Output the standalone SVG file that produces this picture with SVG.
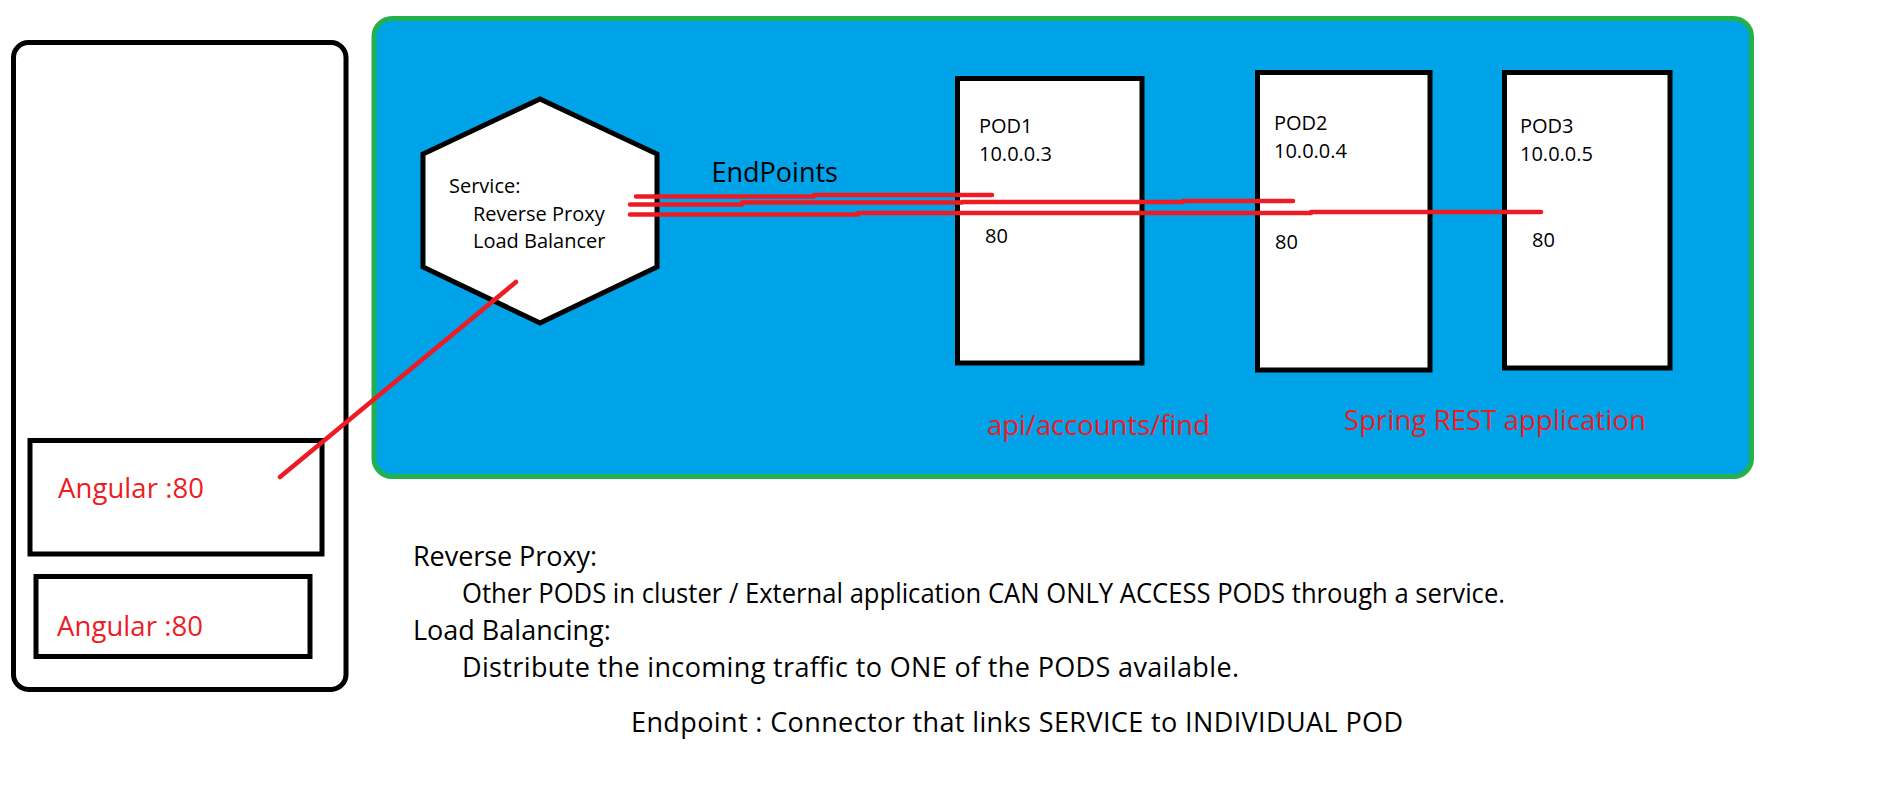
<svg xmlns="http://www.w3.org/2000/svg" width="1892" height="797" viewBox="0 0 1892 797">
<style>
text{font-family:"Open Sans","Noto Sans","Liberation Sans",sans-serif;}
.big{font-size:27px;fill:#000;}
.red{font-size:27.5px;fill:#ED1C24;}
.sm{font-size:20px;fill:#000;}
.box{fill:#fff;stroke:#000;stroke-width:5;}
.wire{fill:none;stroke:#ED1C24;stroke-width:4.5;stroke-linecap:round;stroke-linejoin:round;}
</style>
<rect width="1892" height="797" fill="#fff"/>
<g id="client">
<rect x="13.5" y="42.5" width="332.5" height="647" rx="15" ry="15" fill="#fff" stroke="#000" stroke-width="5"/>
</g>
<g id="angular1">
<rect class="box" x="30" y="440.5" width="292" height="113.5"/>
<text class="red" x="58" y="498" textLength="146" lengthAdjust="spacing">Angular :80</text>
</g>
<g id="angular2">
<rect class="box" x="36" y="576.5" width="274" height="80"/>
<text class="red" x="57" y="636" textLength="146" lengthAdjust="spacing">Angular :80</text>
</g>
<g id="cluster">
<rect x="374" y="18.5" width="1377.5" height="458" rx="18" ry="18" fill="#00A2E8" stroke="#22B14C" stroke-width="5"/>
<text class="red" x="987" y="435" textLength="223" lengthAdjust="spacing">api/accounts/find</text>
<text class="red" x="1344" y="430" textLength="302" lengthAdjust="spacing">Spring REST application</text>
</g>
<g id="service">
<polygon points="540,99 657,154 657,267 540,323 423,267 423,154" fill="#fff" stroke="#000" stroke-width="5"/>
<text class="sm" x="449" y="193">Service:</text>
<text class="sm" x="473" y="220.5">Reverse Proxy</text>
<text class="sm" x="473" y="248">Load Balancer</text>
</g>
<g id="pod1">
<rect class="box" x="957.5" y="78.5" width="184.5" height="284.5"/>
<text class="sm" x="979" y="132.5">POD1</text>
<text class="sm" x="979" y="160.5">10.0.0.3</text>
<text class="sm" x="985" y="243">80</text>
</g>
<g id="pod2">
<rect class="box" x="1257.5" y="72.5" width="172.5" height="297.5"/>
<text class="sm" x="1274" y="130">POD2</text>
<text class="sm" x="1274" y="157.5">10.0.0.4</text>
<text class="sm" x="1275" y="248.5">80</text>
</g>
<g id="pod3">
<rect class="box" x="1504.5" y="72.5" width="165.5" height="295.5"/>
<text class="sm" x="1520" y="132.5">POD3</text>
<text class="sm" x="1520" y="160.5">10.0.0.5</text>
<text class="sm" x="1532" y="246.5">80</text>
</g>
<g id="connectors">
<polyline class="wire" points="636,196.5 814,196.5 814,195 992,195"/>
<polyline class="wire" points="630,204.5 742,204.5 742,202.5 962,202.5 962,202 1183,202 1183,201 1293,201"/>
<polyline class="wire" points="630,214.5 858,214.5 858,213 1311,213 1311,212 1541,212"/>
<line class="wire" x1="516" y1="282" x2="280" y2="477"/>
<text class="big" x="711.5" y="182">EndPoints</text>
</g>
<g id="notes">
<text class="big" x="413" y="566" textLength="184" lengthAdjust="spacing">Reverse Proxy:</text>
<text class="big" x="462" y="603" textLength="1043" lengthAdjust="spacingAndGlyphs">Other PODS in cluster / External application CAN ONLY ACCESS PODS through a service.</text>
<text class="big" x="413" y="640">Load Balancing:</text>
<text class="big" x="462" y="677" textLength="777" lengthAdjust="spacing">Distribute the incoming traffic to ONE of the PODS available.</text>
<text class="big" x="631" y="732" textLength="772" lengthAdjust="spacing">Endpoint : Connector that links SERVICE to INDIVIDUAL POD</text>
</g>
</svg>
